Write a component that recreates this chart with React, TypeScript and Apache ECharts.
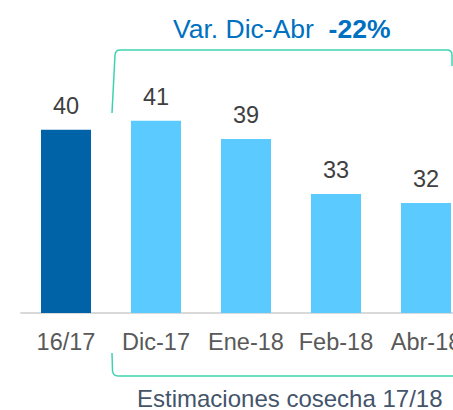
import React, { useEffect, useRef } from "react";
import * as echarts from "echarts";

const categories = ["16/17", "Dic-17", "Ene-18", "Feb-18", "Abr-18"];
const values = [40, 41, 39, 33, 32];
const barColors = ["#0063A8", "#5BCBFF", "#5BCBFF", "#5BCBFF", "#5BCBFF"];
const titleText = "Var. Dic-Abr";
const titleValue = "-22%";
const footText = "Estimaciones cosecha 17/18";

const FONT = "'Liberation Sans', Arial, Helvetica, sans-serif";
const TEAL = "#3DD3B0";

let registered = false;
function registerShapes() {
  if (registered) return;
  registered = true;
  echarts.graphic.registerShape(
    "bracketTop",
    (echarts.graphic as any).extendPath(
      "M112,113 L115,55 Q115.5,50 120,50 L447,50 Q452,50 452,55 L452,66",
      {}
    )
  );
  echarts.graphic.registerShape(
    "bracketBottom",
    (echarts.graphic as any).extendPath(
      "M112,353 L112.5,371 Q113,376 118,376 L480,376",
      {}
    )
  );
}

export default function App() {
  const ref = useRef<HTMLDivElement>(null);
  useEffect(() => {
    if (!ref.current) return;
    registerShapes();
    const chart = echarts.init(ref.current, undefined, { renderer: "svg" });
    chart.setOption({
      animation: false,
      grid: { left: 21, width: 450, top: 84, bottom: 97 },
      xAxis: {
        type: "category",
        data: categories,
        axisLine: { lineStyle: { color: "#D9D9D9", width: 2 } },
        axisTick: { show: false },
        axisLabel: {
          interval: 0,
          color: "#595959",
          fontSize: 23.5,
          fontFamily: FONT,
          margin: 17,
        },
      },
      yAxis: {
        type: "value",
        min: 20,
        max: 45,
        show: false,
        splitLine: { show: false },
      },
      series: [
        {
          type: "bar",
          barWidth: 50,
          data: values.map((v, i) => ({ value: v, itemStyle: { color: barColors[i] } })),
          label: {
            show: true,
            position: "top",
            distance: 12,
            color: "#404040",
            fontSize: 23.5,
            fontFamily: FONT,
          },
        },
      ],
      graphic: [
        {
          type: "bracketTop",
          x: 0,
          y: 0,
          style: { fill: "none", stroke: TEAL, lineWidth: 1.5 },
        } as any,
        {
          type: "bracketBottom",
          x: 0,
          y: 0,
          style: { fill: "none", stroke: TEAL, lineWidth: 1.5 },
        } as any,
        {
          type: "text",
          x: 173,
          y: 29,
          style: {
            text: `{a|${titleText}  }{b|${titleValue}}`,
            verticalAlign: "middle",
            align: "left",
            rich: {
              a: { fontSize: 26.5, fontFamily: FONT, fill: "#0070C0" },
              b: { fontSize: 26.5, fontFamily: FONT, fill: "#0070C0", fontWeight: "bold" },
            },
          },
        },
        {
          type: "text",
          x: 137,
          y: 398,
          style: {
            text: footText,
            fontSize: 24,
            lineHeight: 20,
            fontFamily: FONT,
            fill: "#44546A",
            verticalAlign: "middle",
            align: "left",
          },
        },
      ],
    });
    return () => chart.dispose();
  }, []);
  return (
    <div
      style={{
        position: "fixed",
        left: 0,
        top: 0,
        width: 453,
        height: 410,
        overflow: "hidden",
        background: "#fff",
      }}
    >
      <div ref={ref} style={{ width: 480, height: 410 }} />
    </div>
  );
}
